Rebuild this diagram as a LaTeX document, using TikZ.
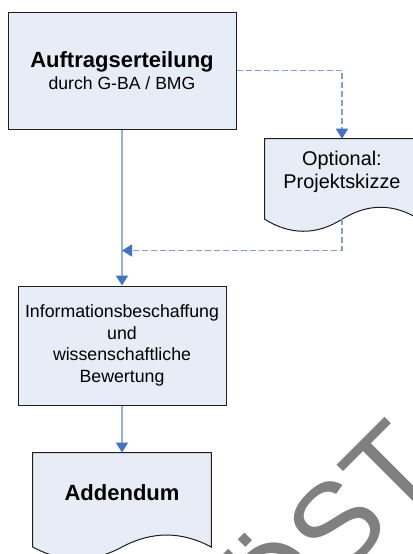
\documentclass[tikz,border=0pt]{standalone}
\usepackage{fontspec}
\setmainfont{Liberation Sans}
\usetikzlibrary{arrows.meta, positioning, calc, backgrounds}

\definecolor{boxfill}{RGB}{231,236,247}
\definecolor{boxline}{RGB}{30,30,30}
\definecolor{flowline}{RGB}{149,179,215}
\definecolor{optline}{RGB}{128,160,216}
\definecolor{tipblue}{RGB}{68,114,196}
\definecolor{markgrey}{RGB}{128,128,128}

% document shape: straight sides, wavy bottom edge
\newcommand{\docoutline}[1]{%
  \draw[docline] let \p1=(#1.north west), \p2=(#1.south east),
      \n1={(\x2-\x1)/6}, \n2={\y2-10.5pt}, \n3={(\x1+\x2)/2} in
    (\x1,\y1) -- (\x1,\n2)
    .. controls +(\n1,-12pt) and +(-\n1,-12pt) .. (\n3,\n2)
    .. controls +(\n1,12pt) and +(-\n1,12pt) .. (\x2,\n2)
    -- (\x2,\y1) -- cycle;}

\tikzset{
  procbox/.style={draw=boxline, line width=0.75pt, fill=boxfill, align=center, inner sep=0pt},
  docbox/.style={align=center, inner sep=0pt},
  docline/.style={draw=boxline, line width=0.75pt, fill=boxfill},
  flow/.style={draw=flowline, line width=1.5pt, -{Triangle[length=7.5pt, width=9pt, color=tipblue]}},
  optflow/.style={draw=optline, line width=1.1pt, dash pattern=on 4.5pt off 2.25pt,
    -{Triangle[length=7.5pt, width=9pt, color=tipblue]}}
}

\begin{document}
\begin{tikzpicture}[x=0.75pt, y=0.75pt]

  \useasboundingbox (0,0) rectangle (413,-554);
  \clip (0,0) rectangle (413,-554);

  % Commission
  \node[procbox, minimum width=171pt, minimum height=87.75pt,
    font=\fontsize{13.2}{16}\selectfont] (auftrag) at (122,-70.5)
    {{\fontsize{16.5}{20}\selectfont\bfseries Auftragserteilung}\\[1pt]durch G-BA / BMG};

  % Optional sketch
  \node[docbox, minimum width=115.5pt, minimum height=49.5pt,
    font=\fontsize{14.9}{17.25}\selectfont] (opt) at (342,-172) {Optional:\\Projektskizze};

  % Research and assessment
  \node[procbox, minimum width=156pt, minimum height=89.25pt, below=117pt of auftrag,
    font=\fontsize{13.3}{16.3}\selectfont] (info)
    {Informationsbeschaffung\\und\\wissenschaftliche\\Bewertung};

  % Addendum
  \node[docbox, minimum width=133.5pt, minimum height=60pt, below=35.25pt of info,
    font=\fontsize{16.5}{20}\selectfont\bfseries] (addendum) {Addendum};

  % Document outlines
  \begin{scope}[on background layer]
    \clip (0,0) rectangle (413,-554);
    \docoutline{opt}
    \docoutline{addendum}
  \end{scope}

  % Watermark
  \node[font=\fontsize{90}{90}\selectfont, text=markgrey, rotate=45, anchor=base east,
    inner sep=0pt] (watermark) at (445.9,-473.6) {ABGELÖST};

  % Connections
  \coordinate (opt-end) at ([yshift=-10.5pt]opt.south);
  \path (auftrag.south) ++(0,-121) coordinate (merge);
  \draw[flow] (auftrag) -- (info);
  \draw[flow] (info) -- (addendum);
  \draw[optflow] (auftrag.east) -| (opt.north);
  \draw[optflow] (opt-end) |- (merge);

\end{tikzpicture}
\end{document}
